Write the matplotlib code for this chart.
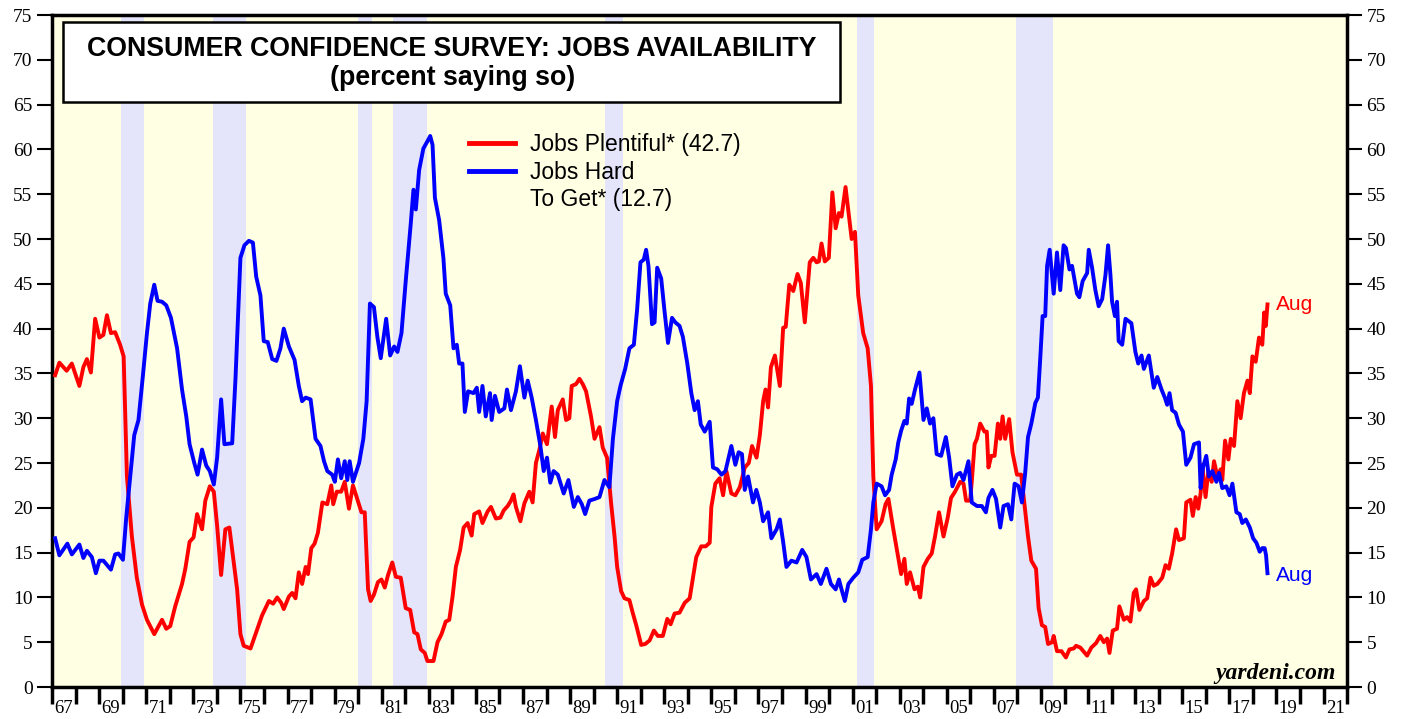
import matplotlib
matplotlib.use("Agg")
import matplotlib.pyplot as plt
from matplotlib.patches import Rectangle
from matplotlib.lines import Line2D

# Jobs Plentiful (red)
jp_year = [1967.13, 1967.31, 1967.62, 1967.84, 1968.16, 1968.33, 1968.48, 1968.65, 1968.83, 1969.01,
           1969.18, 1969.33, 1969.50, 1969.68, 1969.89, 1970.04, 1970.18, 1970.39, 1970.60, 1970.82,
           1971.03, 1971.34, 1971.67, 1971.85, 1972.02, 1972.23, 1972.52, 1972.66, 1972.84, 1973.01,
           1973.16, 1973.37, 1973.51, 1973.70, 1973.87, 1974.01, 1974.18, 1974.36, 1974.53, 1974.72,
           1974.86, 1975.00, 1975.14, 1975.43, 1975.64, 1975.92, 1976.21, 1976.39, 1976.56, 1976.73,
           1976.84, 1977.06, 1977.20, 1977.34, 1977.48, 1977.62, 1977.77, 1977.87, 1978.01, 1978.15,
           1978.29, 1978.48, 1978.69, 1978.86, 1978.94, 1979.09, 1979.28, 1979.43, 1979.61, 1979.78,
           1979.96, 1980.14, 1980.28, 1980.42, 1980.53, 1980.67, 1980.84, 1980.99, 1981.13, 1981.27,
           1981.45, 1981.60, 1981.81, 1982.02, 1982.21, 1982.38, 1982.52, 1982.66, 1982.83, 1982.94,
           1983.20, 1983.37, 1983.54, 1983.72, 1983.87, 1984.01, 1984.15, 1984.33, 1984.48, 1984.65,
           1984.82, 1984.93, 1985.14, 1985.28, 1985.50, 1985.64, 1985.85, 1986.04, 1986.18, 1986.35,
           1986.49, 1986.60, 1986.70, 1986.89, 1987.06, 1987.27, 1987.41, 1987.55, 1987.70, 1987.84,
           1988.02, 1988.22, 1988.36, 1988.48, 1988.69, 1988.83, 1988.97, 1989.07, 1989.25, 1989.40,
           1989.54, 1989.68, 1989.89, 1990.04, 1990.25, 1990.39, 1990.57, 1990.74, 1990.89, 1991.00,
           1991.17, 1991.31, 1991.52, 1991.67, 1991.81, 1992.02, 1992.19, 1992.38, 1992.56, 1992.73,
           1992.94, 1993.13, 1993.27, 1993.44, 1993.65, 1993.87, 1994.08, 1994.22, 1994.36, 1994.57,
           1994.76, 1994.93, 1995.00, 1995.17, 1995.35, 1995.50, 1995.64, 1995.85, 1996.02, 1996.21,
           1996.42, 1996.59, 1996.73, 1996.92, 1997.06, 1997.20, 1997.30, 1997.41, 1997.53, 1997.70,
           1997.91, 1998.05, 1998.16, 1998.31, 1998.48, 1998.66, 1998.80, 1998.97, 1999.18, 1999.33,
           1999.47, 1999.57, 1999.68, 1999.82, 1999.99, 2000.14, 2000.28, 2000.42, 2000.53, 2000.70,
           2000.84, 2000.96, 2001.10, 2001.24, 2001.45, 2001.64, 2001.78, 2001.88, 2002.02, 2002.23,
           2002.40, 2002.52, 2002.73, 2002.92, 2003.06, 2003.20, 2003.30, 2003.44, 2003.63, 2003.77,
           2003.87, 2004.01, 2004.19, 2004.36, 2004.50, 2004.67, 2004.86, 2005.04, 2005.18, 2005.35,
           2005.57, 2005.71, 2005.82, 2005.99, 2006.06, 2006.18, 2006.28, 2006.42, 2006.60, 2006.70,
           2006.77, 2006.89, 2007.03, 2007.17, 2007.27, 2007.37, 2007.48, 2007.65, 2007.79, 2007.98,
           2008.16, 2008.31, 2008.45, 2008.59, 2008.79, 2008.90, 2009.04, 2009.18, 2009.30, 2009.47,
           2009.54, 2009.68, 2009.87, 2010.06, 2010.21, 2010.39, 2010.49, 2010.67, 2010.96, 2011.14,
           2011.34, 2011.52, 2011.67, 2011.81, 2011.91, 2012.05, 2012.23, 2012.33, 2012.52, 2012.66,
           2012.80, 2012.94, 2013.04, 2013.18, 2013.37, 2013.51, 2013.65, 2013.79, 2013.94, 2014.15,
           2014.29, 2014.43, 2014.57, 2014.74, 2014.86, 2015.07, 2015.17, 2015.35, 2015.45, 2015.57,
           2015.68, 2015.78, 2015.85, 2015.99, 2016.11, 2016.25, 2016.35, 2016.49, 2016.63, 2016.70,
           2016.82, 2016.96, 2017.06, 2017.20, 2017.34, 2017.48, 2017.62, 2017.77, 2017.87, 2017.98,
           2018.12, 2018.26, 2018.40, 2018.48, 2018.55, 2018.62]
jp_val = [34.8, 36.2, 35.3, 36.1, 33.6, 35.7, 36.6, 35.1, 41.1, 39.0,
          39.3, 41.5, 39.5, 39.6, 38.2, 36.9, 23.5, 16.8, 12.2, 9.2,
          7.5, 5.9, 7.5, 6.5, 6.8, 9.0, 11.5, 13.2, 16.2, 16.7,
          19.3, 17.6, 20.8, 22.4, 21.8, 18.0, 12.5, 17.6, 17.8, 13.8,
          10.9, 5.9, 4.6, 4.3, 5.9, 8.0, 9.6, 9.3, 10.0, 9.4,
          8.7, 10.1, 10.5, 9.9, 12.8, 11.5, 13.4, 12.6, 15.5, 16.0,
          17.2, 20.6, 20.4, 22.5, 20.4, 21.8, 21.8, 22.9, 19.9, 22.5,
          21.0, 19.5, 19.5, 10.9, 9.6, 10.3, 11.7, 12.0, 11.1, 12.5,
          13.9, 12.3, 12.2, 8.8, 8.6, 6.1, 5.9, 4.2, 3.8, 2.9,
          2.9, 5.0, 5.9, 7.3, 7.5, 10.1, 13.4, 15.3, 17.8, 18.3,
          16.9, 19.3, 19.6, 18.3, 19.6, 20.1, 18.8, 18.9, 19.7, 20.2,
          20.8, 21.5, 20.1, 18.5, 20.5, 21.8, 20.6, 25.0, 26.5, 28.3,
          27.1, 31.3, 27.9, 30.9, 32.1, 29.8, 30.0, 33.6, 33.8, 34.4,
          33.8, 33.0, 30.2, 27.7, 29.0, 26.7, 25.6, 20.6, 16.8, 13.4,
          10.7, 9.9, 9.7, 8.2, 6.9, 4.7, 4.8, 5.2, 6.3, 5.7,
          5.7, 7.6, 7.0, 8.2, 8.3, 9.4, 9.9, 12.2, 14.5, 15.7,
          15.7, 16.1, 20.1, 22.7, 23.3, 21.4, 24.1, 21.6, 21.4, 22.3,
          24.5, 25.0, 26.9, 25.6, 28.1, 31.9, 33.2, 31.2, 35.7, 37.0,
          33.6, 40.1, 40.2, 44.9, 44.2, 46.1, 45.1, 40.7, 47.4, 47.9,
          47.4, 47.5, 49.5, 47.5, 47.9, 55.2, 51.2, 52.9, 52.5, 55.8,
          52.7, 50.0, 50.8, 43.7, 39.5, 37.8, 33.6, 23.5, 17.6, 18.5,
          20.4, 21.0, 17.6, 14.7, 12.6, 14.3, 11.5, 12.8, 10.9, 11.2,
          10.0, 13.4, 14.3, 14.9, 16.8, 19.5, 16.8, 18.9, 21.1, 21.8,
          22.9, 22.7, 20.8, 20.8, 22.9, 27.1, 27.7, 29.4, 28.5, 28.5,
          24.5, 25.8, 25.8, 29.4, 27.7, 30.2, 27.7, 29.9, 26.2, 23.7,
          23.7, 20.1, 16.8, 14.1, 13.2, 8.8, 6.9, 6.7, 4.8, 5.0,
          5.7, 4.0, 4.0, 3.3, 4.2, 4.3, 4.6, 4.4, 3.5, 4.4,
          4.9, 5.7, 5.0, 5.4, 3.8, 6.3, 6.5, 9.0, 7.5, 7.8,
          7.3, 10.5, 10.9, 8.6, 9.6, 9.9, 12.2, 11.3, 11.5, 12.2,
          13.6, 13.2, 14.9, 17.6, 16.4, 16.6, 20.6, 20.9, 19.1, 21.2,
          19.9, 21.6, 24.8, 21.2, 24.1, 22.9, 25.2, 23.5, 24.3, 23.1,
          27.5, 25.4, 27.7, 26.9, 31.9, 30.0, 32.8, 34.2, 32.8, 36.9,
          36.3, 39.0, 38.2, 41.8, 40.3, 42.7]

# Jobs Hard To Get (blue)
jh_year = [1967.13, 1967.31, 1967.65, 1967.84, 1968.16, 1968.33, 1968.48, 1968.69, 1968.86, 1969.01,
           1969.18, 1969.50, 1969.68, 1969.82, 1970.01, 1970.15, 1970.32, 1970.49, 1970.67, 1970.86,
           1971.03, 1971.17, 1971.34, 1971.48, 1971.67, 1971.85, 1972.05, 1972.31, 1972.52, 1972.70,
           1972.84, 1973.04, 1973.18, 1973.37, 1973.55, 1973.70, 1973.87, 1974.01, 1974.18, 1974.32,
           1974.65, 1974.79, 1975.00, 1975.17, 1975.36, 1975.53, 1975.67, 1975.85, 1975.99, 1976.16,
           1976.35, 1976.53, 1976.70, 1976.84, 1977.06, 1977.30, 1977.48, 1977.62, 1977.77, 1977.98,
           1978.19, 1978.40, 1978.55, 1978.69, 1978.90, 1979.01, 1979.14, 1979.28, 1979.43, 1979.54,
           1979.64, 1979.78, 1980.04, 1980.22, 1980.36, 1980.50, 1980.67, 1980.82, 1980.96, 1981.19,
           1981.36, 1981.53, 1981.67, 1981.84, 1982.02, 1982.23, 1982.35, 1982.45, 1982.59, 1982.77,
           1982.94, 1983.06, 1983.16, 1983.26, 1983.44, 1983.62, 1983.72, 1983.91, 1984.05, 1984.19,
           1984.29, 1984.43, 1984.53, 1984.67, 1984.90, 1985.04, 1985.14, 1985.28, 1985.42, 1985.60,
           1985.67, 1985.81, 1985.99, 1986.21, 1986.32, 1986.49, 1986.70, 1986.87, 1987.06, 1987.20,
           1987.37, 1987.55, 1987.74, 1987.88, 1988.02, 1988.16, 1988.30, 1988.48, 1988.73, 1988.93,
           1989.16, 1989.33, 1989.50, 1989.64, 1989.82, 1990.06, 1990.25, 1990.46, 1990.67, 1990.82,
           1991.00, 1991.14, 1991.34, 1991.52, 1991.71, 1991.85, 1991.99, 1992.13, 1992.23, 1992.33,
           1992.48, 1992.59, 1992.70, 1992.87, 1993.01, 1993.16, 1993.33, 1993.47, 1993.65, 1993.79,
           1993.98, 1994.15, 1994.29, 1994.43, 1994.55, 1994.72, 1994.93, 1995.07, 1995.25, 1995.43,
           1995.60, 1995.85, 1996.02, 1996.16, 1996.30, 1996.42, 1996.56, 1996.77, 1996.91, 1997.06,
           1997.20, 1997.41, 1997.55, 1997.77, 1997.91, 1998.05, 1998.19, 1998.40, 1998.62, 1998.86,
           1999.04, 1999.23, 1999.47, 1999.65, 1999.89, 2000.08, 2000.28, 2000.42, 2000.53, 2000.67,
           2000.82, 2001.03, 2001.24, 2001.41, 2001.64, 2001.78, 2001.88, 2002.02, 2002.23, 2002.38,
           2002.55, 2002.66, 2002.83, 2002.94, 2003.06, 2003.20, 2003.30, 2003.40, 2003.51, 2003.65,
           2003.84, 2004.01, 2004.15, 2004.29, 2004.43, 2004.57, 2004.76, 2004.96, 2005.10, 2005.24,
           2005.43, 2005.57, 2005.71, 2005.92, 2006.06, 2006.28, 2006.49, 2006.66, 2006.77, 2006.94,
           2007.09, 2007.27, 2007.41, 2007.60, 2007.74, 2007.88, 2008.05, 2008.19, 2008.33, 2008.45,
           2008.59, 2008.76, 2008.87, 2008.97, 2009.07, 2009.18, 2009.26, 2009.37, 2009.54, 2009.68,
           2009.82, 2009.96, 2010.06, 2010.21, 2010.32, 2010.53, 2010.63, 2010.77, 2010.96, 2011.03,
           2011.17, 2011.31, 2011.45, 2011.60, 2011.74, 2011.85, 2011.95, 2012.02, 2012.14, 2012.23,
           2012.30, 2012.45, 2012.59, 2012.84, 2013.01, 2013.13, 2013.27, 2013.37, 2013.58, 2013.79,
           2013.94, 2014.12, 2014.26, 2014.36, 2014.46, 2014.57, 2014.72, 2014.86, 2015.03, 2015.17,
           2015.35, 2015.50, 2015.71, 2015.78, 2015.88, 2016.02, 2016.13, 2016.28, 2016.45, 2016.56,
           2016.70, 2016.87, 2017.01, 2017.13, 2017.30, 2017.44, 2017.55, 2017.70, 2017.87, 2018.01,
           2018.15, 2018.29, 2018.40, 2018.50, 2018.56, 2018.62]
jh_val = [16.6, 14.7, 16.0, 14.8, 15.9, 14.4, 15.2, 14.5, 12.7, 14.1,
          14.1, 13.1, 14.8, 14.9, 14.2, 18.9, 23.5, 28.1, 29.8, 34.8,
          39.5, 42.8, 44.9, 43.1, 43.0, 42.6, 41.2, 37.8, 33.2, 30.2,
          27.1, 25.0, 23.7, 26.5, 24.7, 24.1, 22.6, 25.6, 32.1, 27.1,
          27.2, 34.4, 47.9, 49.3, 49.8, 49.6, 45.8, 43.7, 38.6, 38.5,
          36.6, 36.4, 37.8, 40.0, 38.0, 36.5, 33.6, 31.9, 32.3, 32.1,
          27.7, 26.9, 25.2, 24.1, 23.7, 22.9, 25.4, 23.3, 25.2, 23.1,
          25.2, 22.9, 25.0, 27.7, 31.9, 42.8, 42.4, 39.0, 36.7, 41.1,
          37.0, 38.0, 37.4, 39.5, 45.3, 51.6, 55.5, 53.3, 57.7, 60.1,
          60.9, 61.5, 60.5, 54.6, 52.1, 47.9, 43.9, 42.6, 37.8, 38.2,
          36.1, 36.1, 30.7, 33.0, 32.8, 33.4, 30.7, 33.6, 30.2, 32.8,
          29.8, 32.5, 30.7, 31.1, 33.2, 30.9, 33.0, 35.8, 32.3, 34.2,
          32.3, 29.8, 26.9, 24.1, 25.6, 22.8, 24.1, 23.7, 21.6, 23.1,
          20.1, 21.2, 20.4, 19.3, 20.8, 21.0, 21.2, 23.1, 22.3, 27.7,
          31.9, 33.6, 35.5, 37.8, 38.2, 42.2, 47.4, 47.7, 48.8, 47.0,
          40.5, 40.7, 46.8, 45.6, 42.0, 38.4, 41.2, 40.7, 40.3, 39.1,
          36.1, 32.8, 30.9, 31.9, 29.3, 28.5, 29.6, 24.5, 24.3, 23.7,
          24.1, 26.9, 24.8, 26.2, 26.0, 22.0, 23.5, 20.6, 22.0, 20.6,
          18.5, 19.5, 16.6, 17.6, 18.7, 16.2, 13.4, 14.1, 13.9, 15.3,
          14.5, 12.0, 12.6, 11.5, 13.2, 11.5, 10.9, 12.0, 10.9, 9.6,
          11.5, 12.2, 12.8, 14.2, 14.5, 17.6, 20.6, 22.7, 22.4, 21.4,
          22.0, 23.7, 25.4, 27.3, 28.6, 29.7, 29.4, 32.2, 31.6, 33.2,
          35.1, 29.8, 31.1, 29.4, 30.0, 26.0, 25.8, 27.9, 25.6, 22.4,
          23.7, 23.9, 23.1, 25.2, 20.6, 20.2, 20.2, 19.5, 21.1, 22.0,
          21.0, 17.8, 20.2, 20.4, 18.7, 22.7, 22.4, 20.6, 23.9, 27.9,
          29.4, 31.7, 32.3, 36.7, 41.4, 41.4, 47.0, 48.8, 43.9, 48.5,
          44.3, 49.3, 49.0, 46.6, 47.0, 43.9, 43.5, 45.3, 46.2, 48.8,
          46.8, 44.3, 42.5, 43.3, 46.0, 49.3, 46.0, 43.0, 41.4, 43.0,
          38.6, 38.2, 41.1, 40.6, 37.4, 36.1, 37.0, 35.5, 37.0, 33.4,
          34.6, 33.2, 32.3, 31.5, 32.8, 30.9, 30.6, 29.3, 28.5, 24.8,
          25.6, 27.1, 27.3, 22.2, 24.5, 25.8, 23.5, 24.1, 22.9, 23.9,
          22.2, 22.4, 21.4, 22.7, 19.5, 19.3, 18.3, 18.7, 17.8, 16.6,
          16.1, 15.1, 15.5, 15.5, 14.7, 12.7]

# recessions (start, end)
rec_start = [1969.92, 1973.83, 1980.00, 1981.50, 1990.50, 2001.17, 2007.92]
rec_end = [1970.92, 1975.25, 1980.58, 1982.92, 1991.25, 2001.92, 2009.50]

year_ticks = list(range(1967, 2023))
label_years = list(range(1967, 2022, 2))
y_ticks = list(range(0, 80, 5))

serif = "Liberation Serif"
sans = "Liberation Sans"

fig = plt.figure(figsize=(14.07, 7.19), dpi=100)
ax = fig.add_axes([0.037, 0.0445, 0.9204, 0.9346])
ax.set_facecolor("#ffffe3")

for s, e in zip(rec_start, rec_end):
    ax.axvspan(s, e, color="#e4e4fa", lw=0, zorder=0)

ax.plot(jp_year, jp_val, color="#ff0000", lw=2.8, zorder=3)
ax.plot(jh_year, jh_val, color="#0000ff", lw=2.8, zorder=3)

ax.set_xlim(1967, 2022)
ax.set_ylim(0, 75)

for sp in ax.spines.values():
    sp.set_linewidth(2.5)
    sp.set_color("black")

ax.set_yticks(y_ticks)
ax.set_yticklabels([str(v) for v in y_ticks], fontfamily=serif, fontsize=14)
ax.tick_params(axis="y", which="major", direction="out", length=11, width=1.5,
               left=True, right=True, labelleft=True, labelright=True, pad=3)

ax.set_xticks(year_ticks)
ax.set_xticklabels([])
ax.tick_params(axis="x", which="major", direction="out", length=12, width=2.5)
ax.set_xticks([y + 0.5 for y in label_years], minor=True)
ax.set_xticklabels(["%02d" % (y % 100) for y in label_years], minor=True,
                   fontfamily=serif, fontsize=13.5)
ax.tick_params(axis="x", which="minor", length=0, pad=9)

# title box
ax.add_patch(Rectangle((0.0085, 0.8705), 0.600, 0.119, transform=ax.transAxes,
                       facecolor="white", edgecolor="black", lw=1.8, zorder=5))
ax.text(0.309, 0.949, "CONSUMER CONFIDENCE SURVEY: JOBS AVAILABILITY", transform=ax.transAxes,
        ha="center", va="center", fontsize=19.3, fontweight="bold", fontfamily=sans, zorder=6)
ax.text(0.309, 0.906, "(percent saying so)", transform=ax.transAxes,
        ha="center", va="center", fontsize=19.3, fontweight="bold", fontfamily=sans, zorder=6)

# legend
handles = [Line2D([], [], color="#ff0000", lw=3.5),
           Line2D([], [], color="#0000ff", lw=3.5),
           Line2D([], [], color="none", lw=0)]
labels = ["Jobs Plentiful* (42.7)", "Jobs Hard", "To Get* (12.7)"]
leg = ax.legend(handles, labels, loc="upper left", bbox_to_anchor=(0.306, 0.855),
                frameon=False, handlelength=2.0, handletextpad=0.68, labelspacing=0.2,
                prop={"family": sans, "size": 16.5})

# end labels
ax.annotate("Aug", (jp_year[-1], jp_val[-1]), xytext=(6, 0), textcoords="offset points",
            color="#ff0000", fontsize=15, fontfamily=sans, va="center", ha="left")
ax.annotate("Aug", (jh_year[-1], jh_val[-1]), xytext=(6, -1.5), textcoords="offset points",
            color="#0000ff", fontsize=15, fontfamily=sans, va="center", ha="left")

ax.text(0.991, 0.012, "yardeni.com", transform=ax.transAxes, ha="right", va="baseline",
        fontsize=17, fontstyle="italic", fontweight="bold", fontfamily=serif)

fig.savefig("out.png", dpi=100)
